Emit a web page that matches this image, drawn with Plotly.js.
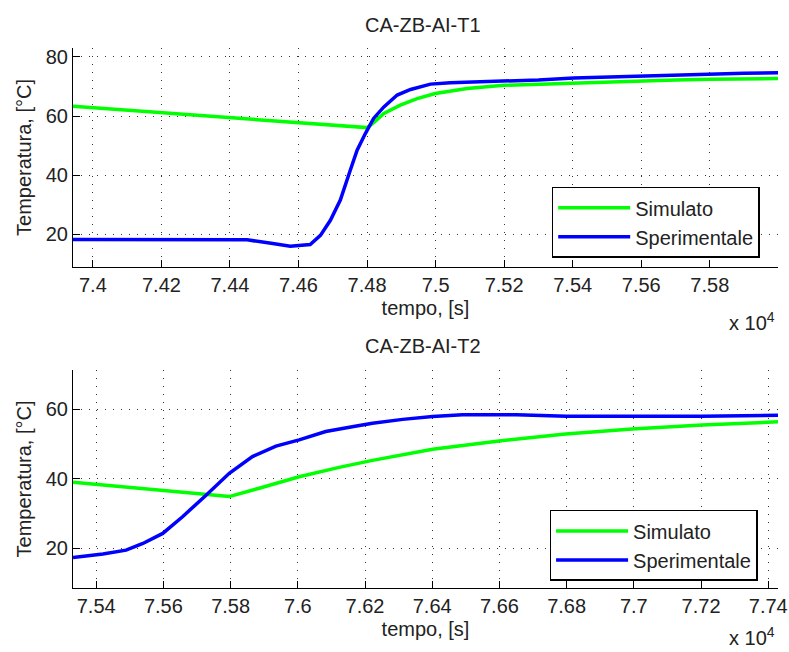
<!DOCTYPE html>
<html>
<head>
<meta charset="utf-8">
<script src="https://cdn.plot.ly/plotly-3.0.1.min.js"></script>
<style>html,body{margin:0;padding:0;background:#fff;}#chart{width:789px;height:652px;}</style>
</head>
<body>
<div id="chart"></div>
<script>
// ---- Data (time in seconds, temperature in °C) ----
const t1SimX = [73942, 74100, 74300, 74500, 74700, 74800, 74820, 74849, 74897, 74946, 74999, 75092, 75199, 75300, 75403, 75500, 75603, 75700, 75802, 75900, 76000];
const t1SimY = [63.3, 62.0, 60.3, 58.6, 56.9, 56.1, 57.9, 60.9, 63.7, 65.9, 67.6, 69.3, 70.4, 70.8, 71.2, 71.6, 71.9, 72.2, 72.4, 72.6, 72.7];
const t1ExpX = [73942, 74100, 74300, 74450, 74520, 74576, 74634, 74664, 74693, 74722, 74751, 74771, 74795, 74819, 74849, 74888, 74927, 74985, 75043, 75131, 75218, 75300, 75403, 75500, 75603, 75700, 75802, 75900, 76000];
const t1ExpY = [18.3, 18.3, 18.3, 18.2, 17.0, 16.0, 16.6, 19.7, 24.8, 31.6, 41.7, 48.5, 54.1, 59.2, 63.1, 67.1, 69.0, 70.8, 71.3, 71.6, 71.8, 72.2, 72.9, 73.2, 73.7, 74.1, 74.4, 74.5, 74.6];

const t2SimX = [75331, 75450, 75598, 75727, 75796, 75885, 76004, 76123, 76222, 76401, 76599, 76797, 76995, 77203, 77429];
const t2SimY = [39.0, 38.0, 36.6, 35.5, 34.9, 37.3, 40.6, 43.3, 45.3, 48.5, 50.9, 52.9, 54.3, 55.5, 56.4];
const t2ExpX = [75331, 75420, 75489, 75539, 75598, 75657, 75727, 75796, 75865, 75935, 76004, 76083, 76162, 76222, 76312, 76401, 76490, 76650, 76800, 77000, 77200, 77429];
const t2ExpY = [17.4, 18.4, 19.5, 21.4, 24.3, 29.1, 35.3, 41.6, 46.4, 49.4, 51.2, 53.6, 55.0, 56.0, 57.1, 57.9, 58.4, 58.4, 58.0, 58.0, 58.0, 58.3];

const seriesNames = ["Simulato", "Sperimentale"];
const titles = ["CA-ZB-AI-T1", "CA-ZB-AI-T2"];

const x1TickVals = [74000, 74200, 74400, 74600, 74800, 75000, 75200, 75400, 75600, 75800];
const x1TickText = ["7.4", "7.42", "7.44", "7.46", "7.48", "7.5", "7.52", "7.54", "7.56", "7.58"];
const y1TickVals = [20, 40, 60, 80];
const x2TickVals = [75400, 75600, 75800, 76000, 76200, 76400, 76600, 76800, 77000, 77200, 77400];
const x2TickText = ["7.54", "7.56", "7.58", "7.6", "7.62", "7.64", "7.66", "7.68", "7.7", "7.72", "7.74"];
const y2TickVals = [20, 40, 60];

// ---- Styling ----
const FONT = "Liberation Sans, Arial, sans-serif";
const FS = 20;
const TXT = "#222";
const GREEN = "#00ff00";
const BLUE = "#0000ff";

const traces = [
  {x: t1SimX, y: t1SimY, name: seriesNames[0], mode: "lines", line: {color: GREEN, width: 3.5}, xaxis: "x", yaxis: "y", legend: "legend"},
  {x: t1ExpX, y: t1ExpY, name: seriesNames[1], mode: "lines", line: {color: BLUE, width: 3.5}, xaxis: "x", yaxis: "y", legend: "legend"},
  {x: t2SimX, y: t2SimY, name: seriesNames[0], mode: "lines", line: {color: GREEN, width: 3.5}, xaxis: "x2", yaxis: "y2", legend: "legend2"},
  {x: t2ExpX, y: t2ExpY, name: seriesNames[1], mode: "lines", line: {color: BLUE, width: 3.5}, xaxis: "x2", yaxis: "y2", legend: "legend2"}
];

function xAxis(range, vals, text, anchor) {
  return {
    range: range, anchor: anchor, domain: [0, 1],
    tickmode: "array", tickvals: vals, ticktext: text,
    ticks: "inside", ticklen: 7, tickcolor: "#000", tickwidth: 1,
    showline: true, linecolor: "#000", linewidth: 1, mirror: false,
    showgrid: true, gridcolor: "#333", gridwidth: 1, griddash: "1px,7px",
    zeroline: false,
    tickfont: {family: FONT, size: FS, color: TXT},
    title: {text: "tempo, [s]", font: {family: FONT, size: FS, color: TXT}, standoff: 5}
  };
}
function yAxis(range, vals, domain, anchor) {
  return {
    range: range, domain: domain, anchor: anchor,
    tickmode: "array", tickvals: vals,
    ticks: "inside", ticklen: 7, tickcolor: "#000", tickwidth: 1,
    showline: true, linecolor: "#000", linewidth: 1, mirror: false,
    showgrid: true, gridcolor: "#333", gridwidth: 1, griddash: "1px,7px",
    zeroline: false,
    tickfont: {family: FONT, size: FS, color: TXT},
    title: {text: "Temperatura, [°C]", font: {family: FONT, size: FS, color: TXT}, standoff: 8}
  };
}

const legendStyle = {
  xref: "paper", yref: "paper", xanchor: "left", yanchor: "top",
  bgcolor: "#fff", bordercolor: "#000", borderwidth: 1.5,
  font: {family: FONT, size: FS, color: TXT},
  itemwidth: 72, tracegroupgap: 0
};

const layout = {
  width: 789, height: 652,
  margin: {l: 73, r: 11, t: 48, b: 64},
  paper_bgcolor: "#fff", plot_bgcolor: "#fff",
  showlegend: true,
  xaxis: xAxis([73942, 75999], x1TickVals, x1TickText, "y"),
  yaxis: yAxis([9, 83], y1TickVals, [0.5944, 1], "x"),
  xaxis2: xAxis([75331, 77429], x2TickVals, x2TickText, "y2"),
  yaxis2: yAxis([8.6, 71.3], y2TickVals, [0, 0.4037], "x2"),
  legend: Object.assign({}, legendStyle, {x: 0.679, y: 0.743}),
  legend2: Object.assign({}, legendStyle, {x: 0.676, y: 0.1445}),
  annotations: [
    {text: titles[0], xref: "paper", yref: "paper", x: 0.497, y: 1.0435, xanchor: "center", yanchor: "middle", showarrow: false, font: {family: FONT, size: FS, color: TXT}},
    {text: titles[1], xref: "paper", yref: "paper", x: 0.497, y: 0.449, xanchor: "center", yanchor: "middle", showarrow: false, font: {family: FONT, size: FS, color: TXT}},
    {text: "x 10<sup>4</sup>", xref: "paper", yref: "paper", x: 0.9986, y: 0.4926, xanchor: "right", yanchor: "middle", showarrow: false, font: {family: FONT, size: FS, color: TXT}},
    {text: "x 10<sup>4</sup>", xref: "paper", yref: "paper", x: 0.9986, y: -0.1167, xanchor: "right", yanchor: "bottom", showarrow: false, font: {family: FONT, size: FS, color: TXT}}
  ]
};

Plotly.newPlot("chart", traces, layout, {displayModeBar: false, staticPlot: true});
</script>
</body>
</html>
